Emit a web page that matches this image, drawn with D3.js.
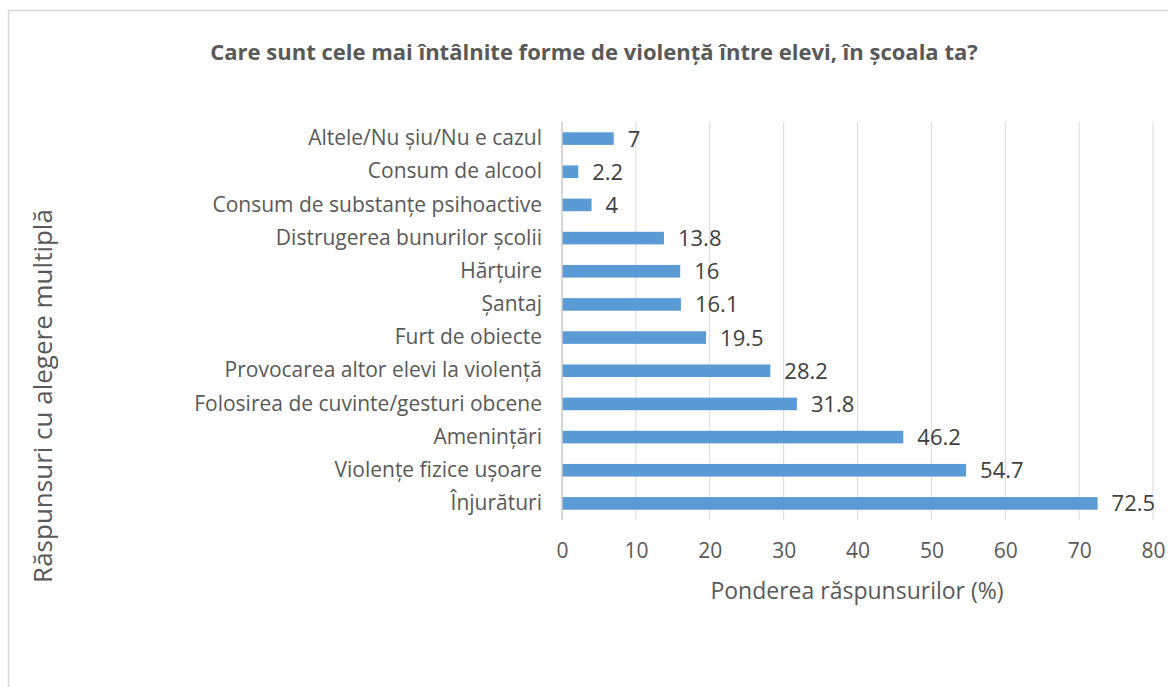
<!DOCTYPE html>
<meta charset="utf-8">
<style>
  body { margin: 0; background: #fff; }
  text { font-family: "Open Sans", "Liberation Sans", sans-serif; }
</style>
<body>
<script src="https://cdn.jsdelivr.net/npm/d3@7"></script>
<script>
  // categories top to bottom, as in the picture
  var categories = [
    "Altele/Nu șiu/Nu e cazul",
    "Consum de alcool",
    "Consum de substanțe psihoactive",
    "Distrugerea bunurilor școlii",
    "Hărțuire",
    "Șantaj",
    "Furt de obiecte",
    "Provocarea altor elevi la violență",
    "Folosirea de cuvinte/gesturi obcene",
    "Amenințări",
    "Violențe fizice ușoare",
    "Înjurături"
  ];
  var values = [7, 2.2, 4, 13.8, 16, 16.1, 19.5, 28.2, 31.8, 46.2, 54.7, 72.5];
  var xTicks = [0, 10, 20, 30, 40, 50, 60, 70, 80];

  var title = "Care sunt cele mai întâlnite forme de violență între elevi, în școala ta?";
  var xTitle = "Ponderea răspunsurilor (%)";
  var yTitle = "Răspunsuri cu alegere multiplă";

  var W = 1168, H = 687;
  var plot = {left: 562, right: 1153, top: 122, bottom: 520};
  var font = "'Open Sans', 'Liberation Sans', sans-serif";

  var svg = d3.select("body").append("svg")
    .attr("width", W)
    .attr("height", H);

  // chart border (runs off the right and bottom edge)
  svg.append("rect")
    .attr("x", 8.5).attr("y", 10.5)
    .attr("width", W + 20).attr("height", H + 20)
    .attr("fill", "none")
    .attr("stroke", "#d9d9d9")
    .attr("stroke-width", 1.5);

  var x = d3.scaleLinear().domain([0, 80]).range([plot.left, plot.right]);
  var y = d3.scaleBand().domain(categories).range([plot.top, plot.bottom]).paddingInner(0.62).paddingOuter(0.31);

  // gridlines
  svg.append("g")
    .selectAll("line")
    .data(xTicks)
    .enter()
    .append("line")
    .attr("x1", function(d) { return x(d); })
    .attr("x2", function(d) { return x(d); })
    .attr("y1", plot.top)
    .attr("y2", plot.bottom)
    .attr("stroke", "#d9d9d9")
    .attr("stroke-width", 1);

  // x axis labels
  var xAxis = d3.axisBottom(x).tickValues(xTicks).tickSize(0).tickPadding(0);
  var gx = svg.append("g")
    .call(xAxis);
  gx.select(".domain").remove();
  gx.selectAll("text")
    .attr("y", 558)
    .attr("dy", 0)
    .attr("font-family", font)
    .attr("font-size", "21px")
    .attr("fill", "#595959");

  // category labels
  var yAxis = d3.axisLeft(y).tickSize(0).tickPadding(0);
  var gy = svg.append("g")
    .attr("transform", "translate(" + (plot.left - 20) + ",0)")
    .call(yAxis);
  gy.select(".domain").remove();
  gy.selectAll("text")
    .attr("font-family", font)
    .attr("font-size", "21px")
    .attr("fill", "#595959");

  // bars
  svg.append("g")
    .selectAll("rect")
    .data(values)
    .enter()
    .append("rect")
    .attr("x", x(0))
    .attr("y", function(d, i) { return y(categories[i]); })
    .attr("width", function(d) { return x(d) - x(0); })
    .attr("height", y.bandwidth())
    .attr("fill", "#5b9bd5");

  // value labels
  svg.append("g")
    .selectAll("text")
    .data(values)
    .enter()
    .append("text")
    .text(function(d) { return d; })
    .attr("x", function(d) { return x(d) + 14; })
    .attr("y", function(d, i) { return y(categories[i]) + y.bandwidth() / 2; })
    .attr("dy", "0.36em")
    .attr("font-size", "22px")
    .attr("fill", "#404040");

  // y axis line
  svg.append("line")
    .attr("x1", plot.left).attr("x2", plot.left)
    .attr("y1", plot.top).attr("y2", plot.bottom)
    .attr("stroke", "#d0d0d0")
    .attr("stroke-width", 1.5);

  // title
  svg.append("text")
    .text(title)
    .attr("x", 594)
    .attr("y", 60)
    .attr("text-anchor", "middle")
    .attr("font-size", "22px")
    .attr("font-weight", "bold")
    .attr("fill", "#595959");

  // axis titles
  svg.append("text")
    .text(xTitle)
    .attr("x", 857)
    .attr("y", 599)
    .attr("text-anchor", "middle")
    .attr("font-size", "23px")
    .attr("fill", "#595959");

  svg.append("text")
    .text(yTitle)
    .attr("transform", "translate(52,396) rotate(-90)")
    .attr("text-anchor", "middle")
    .attr("font-size", "26px")
    .attr("fill", "#595959");
</script>
</body>
